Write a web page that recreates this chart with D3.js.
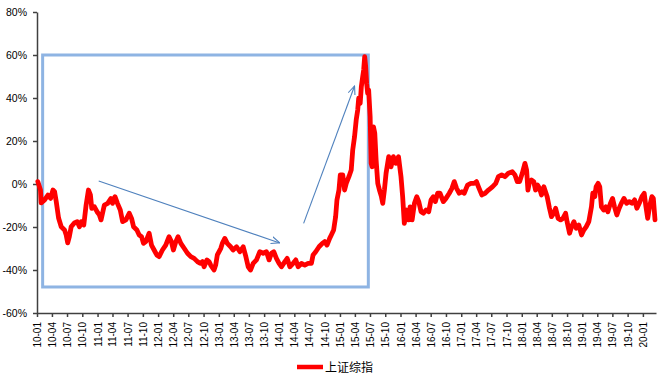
<!DOCTYPE html>
<html>
<head>
<meta charset="utf-8">
<script src="https://cdn.jsdelivr.net/npm/d3@7"></script>
<style>
  body { margin: 0; background: #fff; }
  text { font-family: "Liberation Sans", Arial, sans-serif; }
</style>
</head>
<body>
<div id="chart"></div>
<script>
var svgWidth = 663;
var svgHeight = 377;

var margin = { top: 12, right: 7, bottom: 64, left: 37 };
var width = svgWidth - margin.left - margin.right;
var height = svgHeight - margin.top - margin.bottom;

// series: 上证综指, cumulative change (%)
var dates = [
  "2010-01-06","2010-01-22","2010-01-26","2010-02-16","2010-03-08","2010-03-24","2010-04-07","2010-04-17","2010-04-27","2010-05-11",
  "2010-05-27","2010-06-16","2010-06-26","2010-07-05","2010-07-15","2010-07-26","2010-08-14","2010-08-31","2010-09-14","2010-09-24",
  "2010-10-10","2010-10-24","2010-11-07","2010-11-19","2010-11-27","2010-12-13","2010-12-29",
  "2011-01-12","2011-01-22","2011-02-11","2011-03-03","2011-03-23","2011-04-01","2011-04-16","2011-05-01","2011-05-18","2011-06-01",
  "2011-06-21","2011-07-11","2011-07-25","2011-08-06","2011-08-26","2011-09-09","2011-09-23","2011-10-05","2011-10-19","2011-11-08",
  "2011-11-22","2011-12-08","2011-12-24",
  "2012-01-07","2012-01-27","2012-02-16","2012-03-07","2012-03-21","2012-04-02","2012-04-17","2012-04-30","2012-05-17","2012-06-06",
  "2012-06-26","2012-07-16","2012-08-05","2012-08-25","2012-09-10","2012-09-24","2012-10-04","2012-10-21","2012-11-03","2012-11-13",
  "2012-12-03","2012-12-13","2012-12-23",
  "2013-01-13","2013-01-22","2013-02-06","2013-02-21","2013-03-13","2013-03-28","2013-04-18","2013-05-08","2013-05-28","2013-06-13",
  "2013-06-27","2013-07-11","2013-07-27","2013-08-16","2013-09-05","2013-09-25","2013-10-15","2013-10-31","2013-11-14","2013-11-28",
  "2013-12-14","2013-12-30",
  "2014-01-14","2014-02-03","2014-02-17","2014-03-05","2014-03-25","2014-04-10","2014-04-24","2014-05-14","2014-06-03","2014-06-23",
  "2014-07-13","2014-07-23","2014-08-08","2014-08-28","2014-09-17","2014-10-01","2014-10-15","2014-10-31","2014-11-10","2014-11-24",
  "2014-12-06","2014-12-14","2014-12-26",
  "2015-01-03","2015-01-18","2015-01-29","2015-02-08","2015-02-24","2015-03-10","2015-03-19","2015-03-30","2015-04-09","2015-04-18",
  "2015-04-24","2015-05-03","2015-05-10","2015-05-18","2015-05-24","2015-05-30","2015-06-05","2015-06-11","2015-06-17","2015-06-23",
  "2015-07-02","2015-07-08","2015-07-14","2015-07-22","2015-07-30","2015-08-07","2015-08-17","2015-08-27","2015-09-08","2015-09-16",
  "2015-09-26","2015-10-06","2015-10-22","2015-11-05","2015-11-19","2015-12-05","2015-12-20",
  "2016-01-04","2016-01-14","2016-01-24","2016-02-07","2016-02-19","2016-02-28","2016-03-11","2016-03-25","2016-04-08","2016-04-20",
  "2016-05-04","2016-05-18","2016-06-03","2016-06-19","2016-07-03","2016-07-17","2016-07-29","2016-08-12","2016-08-26","2016-09-15",
  "2016-10-01","2016-10-21","2016-11-06","2016-11-20","2016-12-04","2016-12-20",
  "2017-01-05","2017-01-19","2017-02-08","2017-02-28","2017-03-20","2017-04-03","2017-04-15","2017-05-05","2017-05-25","2017-06-14",
  "2017-07-08","2017-07-28","2017-08-13","2017-09-02","2017-09-22","2017-10-12","2017-11-05","2017-11-21","2017-12-05","2017-12-19",
  "2018-01-04","2018-01-20","2018-01-30","2018-02-07","2018-02-17","2018-02-28","2018-03-14","2018-03-25","2018-04-06","2018-04-18",
  "2018-04-30","2018-05-14","2018-05-24","2018-06-03","2018-06-17","2018-06-29","2018-07-13","2018-07-24","2018-08-08","2018-08-23",
  "2018-09-06","2018-09-22","2018-10-01","2018-10-16","2018-10-28","2018-11-11","2018-11-25","2018-12-11","2018-12-27",
  "2019-01-10","2019-01-24","2019-02-09","2019-02-25","2019-03-05","2019-03-17","2019-03-25","2019-04-06","2019-04-16","2019-04-26",
  "2019-05-10","2019-05-23","2019-06-04","2019-06-19","2019-07-02","2019-07-14","2019-07-28","2019-08-11","2019-08-24","2019-09-09",
  "2019-09-25","2019-10-11","2019-10-27","2019-11-12","2019-11-26","2019-12-10","2019-12-26",
  "2020-01-09","2020-01-18","2020-01-30","2020-02-10","2020-02-24","2020-03-04","2020-03-14"
];
var values = [
  1.1,-2.8,-8.8,-7.4,-5.1,-6.7,-2.8,-3.6,-8.2,-15.8,
  -19.9,-21.4,-23.7,-27.4,-24.5,-19.9,-18.1,-17.5,-19.9,-17.5,
  -19.1,-9.8,-2.8,-5.1,-11.3,-10.6,-12.9,
  -14.4,-16.7,-9.8,-9.0,-6.7,-9.0,-5.9,-9.0,-12.1,-17.5,
  -16.7,-13.6,-16.0,-19.9,-21.4,-23.7,-24.5,-27.6,-26.8,-22.9,
  -28.4,-30.7,-33.0,
  -33.8,-30.7,-28.4,-24.5,-26.8,-30.7,-26.8,-24.5,-27.6,-29.9,
  -32.2,-33.8,-34.6,-36.1,-36.9,-36.1,-38.5,-35.3,-36.1,-37.7,
  -40.0,-37.7,-33.0,
  -29.9,-27.6,-25.3,-27.6,-29.2,-30.7,-29.2,-31.5,-29.2,-33.8,
  -38.5,-40.0,-36.9,-35.3,-31.5,-32.2,-31.5,-35.3,-32.2,-31.5,
  -34.6,-36.9,
  -38.5,-36.1,-34.6,-38.5,-36.9,-35.3,-38.5,-36.9,-37.7,-36.9,
  -36.9,-33.0,-31.5,-29.2,-27.6,-26.8,-28.4,-25.3,-23.7,-21.4,
  -15.2,-7.4,-2.8,
  4.2,4.2,-2.8,0.3,3.4,6.5,15.8,22.0,29.8,34.4,
  39.9,37.5,45.3,49.9,53.0,59.2,54.6,46.8,42.2,43.7,
  31.3,9.6,8.0,26.6,23.6,11.2,0.3,-2.8,-5.9,-9.0,
  -2.8,5.0,12.7,8.0,12.7,9.6,12.7,
  3.4,-5.9,-18.3,-12.1,-16.7,-10.6,-16.7,-9.0,-5.9,-8.2,
  -12.9,-13.6,-12.1,-12.9,-7.4,-5.9,-8.2,-4.3,-4.3,-8.2,
  -6.7,-4.3,-2.0,1.1,-2.0,-4.3,
  -3.6,-4.3,-0.5,0.3,0.3,1.1,-1.3,-5.1,-4.3,-2.8,
  -1.3,0.3,3.4,4.2,3.4,5.0,5.7,4.2,1.1,1.1,
  5.0,9.6,6.5,-2.8,1.1,1.9,1.1,-2.8,-0.5,-2.0,
  -5.1,-1.3,-3.6,-5.9,-11.3,-15.2,-13.6,-11.3,-16.0,-16.7,
  -16.0,-13.6,-17.5,-22.9,-19.9,-17.5,-20.6,-19.1,-23.7,
  -21.4,-19.9,-17.5,-10.6,-4.3,-5.9,-1.3,0.3,-1.3,-10.6,
  -12.1,-10.6,-12.9,-9.0,-6.7,-10.6,-14.4,-11.3,-9.0,-6.7,
  -9.0,-8.2,-9.0,-7.4,-11.3,-9.0,-5.9,
  -4.3,-9.8,-16.0,-10.6,-5.9,-6.7,-16.7
];

var yTicks = [-60, -40, -20, 0, 20, 40, 60, 80];
var seriesName = "上证综指";

// annotations (date, value)
var boxCorners = [["2010-02-04", 60], ["2015-06-21", -47.9]];
var arrows = [
  [["2011-01-08", 1.4], ["2014-01-03", -27.4]],
  [["2014-05-27", -18.3], ["2015-03-30", 45.6]]
];

var parse = d3.timeParse("%Y-%m-%d");
var data = dates.map(function(d, i) { return { date: parse(d), value: values[i] }; });

var svg = d3.select("#chart")
  .append("svg")
  .attr("width", svgWidth)
  .attr("height", svgHeight);

var defs = svg.append("defs");
defs.append("marker")
  .attr("id", "arrowHead")
  .attr("viewBox", "0 0 10 10")
  .attr("refX", 9.5)
  .attr("refY", 5)
  .attr("markerWidth", 9)
  .attr("markerHeight", 9)
  .attr("markerUnits", "userSpaceOnUse")
  .attr("orient", "auto")
  .append("path")
  .attr("d", "M0,1 L9.5,5 L0,9")
  .attr("fill", "none")
  .attr("stroke", "#4f81bd")
  .attr("stroke-width", 1.2);

var chart = svg.append("g")
  .attr("transform", `translate(${margin.left}, ${margin.top})`);

var startDate = parse("2010-01-01");
var endDate = parse("2020-03-20");

var xScale = d3.scaleTime()
  .domain([startDate, endDate])
  .range([0, width]);

var yScale = d3.scaleLinear()
  .domain([-60, 80])
  .range([height, 0]);

// x axis
var bottomAxis = d3.axisBottom(xScale)
  .tickValues(d3.timeMonth.every(3).range(startDate, parse("2020-02-01")))
  .tickFormat(d3.timeFormat("%y-%m"))
  .tickSize(4)
  .tickSizeOuter(0);

var xAxis = chart.append("g")
  .attr("transform", `translate(0, ${height})`)
  .call(bottomAxis);
xAxis.selectAll("text")
  .attr("transform", "rotate(-90)")
  .attr("x", -9)
  .attr("y", 0)
  .attr("dy", "0.35em")
  .style("text-anchor", "end")
  .style("font-size", "10px")
  .attr("fill", "#000");

// y axis
var leftAxis = d3.axisLeft(yScale)
  .tickValues(yTicks)
  .tickFormat(function(d) { return d + "%"; })
  .tickSize(4)
  .tickSizeOuter(0)
  .tickPadding(6);

var yAxis = chart.append("g").call(leftAxis);
yAxis.selectAll("text")
  .style("font-size", "10.5px")
  .attr("fill", "#000");

chart.selectAll(".domain, .tick line")
  .attr("stroke", "#404040")
  .attr("stroke-width", 1.5);

// highlight box
chart.append("rect")
  .attr("x", xScale(parse(boxCorners[0][0])))
  .attr("y", yScale(boxCorners[0][1]))
  .attr("width", xScale(parse(boxCorners[1][0])) - xScale(parse(boxCorners[0][0])))
  .attr("height", yScale(boxCorners[1][1]) - yScale(boxCorners[0][1]))
  .attr("fill", "none")
  .attr("stroke", "#8eb4e3")
  .attr("stroke-width", 3);

// line
var line = d3.line()
  .x(d => xScale(d.date))
  .y(d => yScale(d.value));

chart.append("path")
  .datum(data)
  .attr("d", line)
  .attr("fill", "none")
  .attr("stroke", "#ff0000")
  .attr("stroke-width", 4.8)
  .attr("stroke-linejoin", "round")
  .attr("stroke-linecap", "round");

// arrows
chart.selectAll(".arrow")
  .data(arrows)
  .enter()
  .append("line")
  .attr("class", "arrow")
  .attr("x1", d => xScale(parse(d[0][0])))
  .attr("y1", d => yScale(d[0][1]))
  .attr("x2", d => xScale(parse(d[1][0])))
  .attr("y2", d => yScale(d[1][1]))
  .attr("stroke", "#4f81bd")
  .attr("stroke-width", 1.1)
  .attr("marker-end", "url(#arrowHead)");

// legend
var legend = svg.append("g")
  .attr("transform", "translate(297, 367)");
legend.append("line")
  .attr("x1", 0).attr("x2", 26)
  .attr("y1", 0).attr("y2", 0)
  .attr("stroke", "#ff0000")
  .attr("stroke-width", 4.5);
legend.append("text")
  .attr("x", 28)
  .attr("y", 4.5)
  .style("font-family", "'Noto Sans CJK SC', sans-serif")
  .style("font-size", "12px")
  .attr("fill", "#000")
  .text(seriesName);
</script>
</body>
</html>
